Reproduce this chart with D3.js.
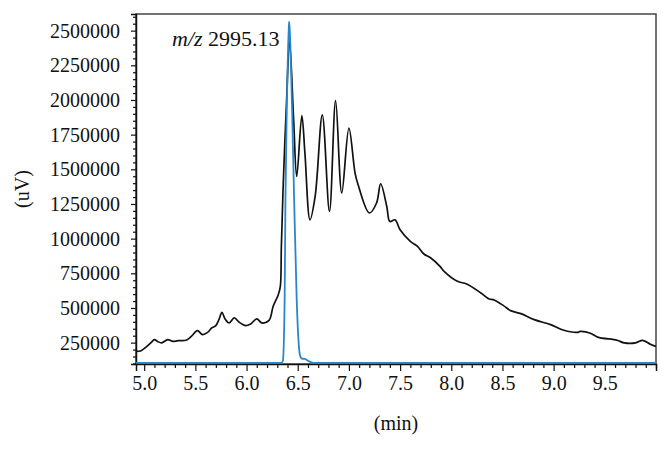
<!DOCTYPE html>
<html><head><meta charset="utf-8">
<script src="https://cdn.jsdelivr.net/npm/d3@7"></script>
<style>body{margin:0;background:#fff}svg{display:block}text{font-family:"Liberation Serif","Times New Roman",serif;fill:#111}</style>
</head><body><svg id="c" width="671" height="449"></svg>
<script>
// data
const blackX = [4.92,4.97,5.02,5.07,5.10,5.13,5.17,5.23,5.28,5.33,5.41,5.46,5.52,5.57,5.62,5.66,5.70,5.73,5.76,5.79,5.83,5.88,5.93,5.99,6.04,6.10,6.15,6.22,6.26,6.31,6.33,6.34,6.36,6.39,6.42,6.46,6.49,6.54,6.57,6.62,6.67,6.74,6.81,6.87,6.93,7.00,7.06,7.09,7.20,7.27,7.31,7.37,7.40,7.45,7.50,7.60,7.67,7.73,7.80,7.89,7.93,8.06,8.15,8.29,8.37,8.41,8.51,8.58,8.68,8.81,8.97,9.10,9.23,9.26,9.36,9.43,9.62,9.69,9.80,9.87,9.95,10.0];
const blackY = [187000,192000,219000,252000,272000,259000,248000,272000,259000,264000,267000,295000,337000,308000,324000,356000,373000,416000,468000,421000,392000,428000,396000,373000,385000,421000,392000,411000,512000,596000,656000,944000,1424000,1977000,2421000,1857000,1448000,1888000,1619000,1136000,1304000,1893000,1196000,1996000,1329000,1797000,1473000,1388000,1185000,1257000,1396000,1232000,1124000,1136000,1064000,980000,944000,891000,860000,800000,764000,692000,673000,608000,565000,560000,517000,481000,459000,416000,380000,339000,324000,331000,318000,290000,267000,248000,248000,267000,236000,223000];
const blueX = [4.92,6.34,6.355,6.372,6.380,6.393,6.412,6.416,6.422,6.445,6.465,6.490,6.521,6.540,6.57,6.60,6.65,10.0];
const blueY = [104000,104000,120000,560000,1280000,1929000,2505000,2565000,2505000,1929000,1280000,560000,163000,135000,133000,120000,104000,104000];
const yTickValues = [250000,500000,750000,1000000,1250000,1500000,1750000,2000000,2250000,2500000];
const xTickValues = [5.0,5.5,6.0,6.5,7.0,7.5,8.0,8.5,9.0,9.5];
const annotation = "2995.13";

const SERIF = '"Liberation Serif", "Times New Roman", serif';
const svg = d3.select("#c");
const m = {l:136, t:14, r:15, b:85};
const W = 671, H = 449;
const x = d3.scaleLinear().domain([4.92,10.0]).range([m.l, W-m.r]);
const y = d3.scaleLinear().domain([96000,2620000]).range([H-m.b, m.t]);

// frame
svg.append("rect").attr("x",m.l).attr("y",m.t).attr("width",W-m.r-m.l).attr("height",H-m.b-m.t)
  .attr("fill","none").attr("stroke","#444").attr("stroke-width",1.5);

// minor ticks
const yMinor = d3.range(100000,2620000,50000).filter(v=>yTickValues.indexOf(v)<0);
const xMinor = d3.range(50,101).map(v=>v/10).filter(v=>xTickValues.indexOf(v)<0);

const gy = svg.append("g").attr("transform",`translate(${m.l},0)`);
gy.call(d3.axisLeft(y).tickValues(yMinor).tickSize(3).tickFormat(""));
gy.call(g=>g.select(".domain").remove());
const gy2 = svg.append("g").attr("transform",`translate(${m.l},0)`);
gy2.call(d3.axisLeft(y).tickValues(yTickValues).tickSize(5).tickPadding(11).tickFormat(d3.format("d")));
gy2.attr("font-family",null).attr("font-size",null);
gy2.selectAll("text").style("font-size","20px").style("font-family",SERIF);

const gx = svg.append("g").attr("transform",`translate(0,${H-m.b})`);
gx.call(d3.axisBottom(x).tickValues(xMinor).tickSize(4).tickFormat(""));
gx.call(g=>g.select(".domain").remove());
const gx2 = svg.append("g").attr("transform",`translate(0,${H-m.b})`);
gx2.call(d3.axisBottom(x).tickValues(xTickValues).tickSize(7).tickPadding(5).tickFormat(d3.format(".1f")));
gx2.attr("font-family",null).attr("font-size",null);
gx2.selectAll("text").style("font-size","20px").style("font-family",SERIF);
svg.selectAll(".domain").attr("stroke","#111").attr("stroke-width",1.5);
svg.selectAll(".tick line").attr("stroke","#111").attr("stroke-width",1.2);

// lines
svg.append("clipPath").attr("id","cp").append("rect")
  .attr("x",m.l).attr("y",m.t).attr("width",W-m.r-m.l).attr("height",H-m.b-m.t);
const line = d3.line().x(d=>x(d[0])).y(d=>y(d[1])).curve(d3.curveCatmullRom.alpha(0.5));
svg.append("path").datum(blackX.map((v,i)=>[v,blackY[i]])).attr("d",line)
  .attr("fill","none").attr("stroke","#111").attr("stroke-width",1.7).attr("clip-path","url(#cp)");
svg.append("path").datum(blueX.map((v,i)=>[v,blueY[i]])).attr("d",d3.line().x(d=>x(d[0])).y(d=>y(d[1])).curve(d3.curveMonotoneX))
  .attr("fill","none").attr("stroke","#2a86c8").attr("stroke-width",1.8).attr("clip-path","url(#cp)");

// labels
svg.append("text").attr("x",(m.l+W-m.r)/2).attr("y",430).attr("text-anchor","middle")
  .style("font-size","20px").style("font-family",SERIF).text("(min)");
svg.append("text").attr("transform",`translate(29,${(m.t+H-m.b)/2}) rotate(-90)`).attr("text-anchor","middle")
  .style("font-size","20px").style("font-family",SERIF).text("(uV)");
const ann = svg.append("text").attr("x",172).attr("y",46).style("font-size","22px").style("font-family",SERIF);
ann.append("tspan").style("font-style","italic").text("m/z");
ann.append("tspan").text(" " + annotation);
</script></body></html>
